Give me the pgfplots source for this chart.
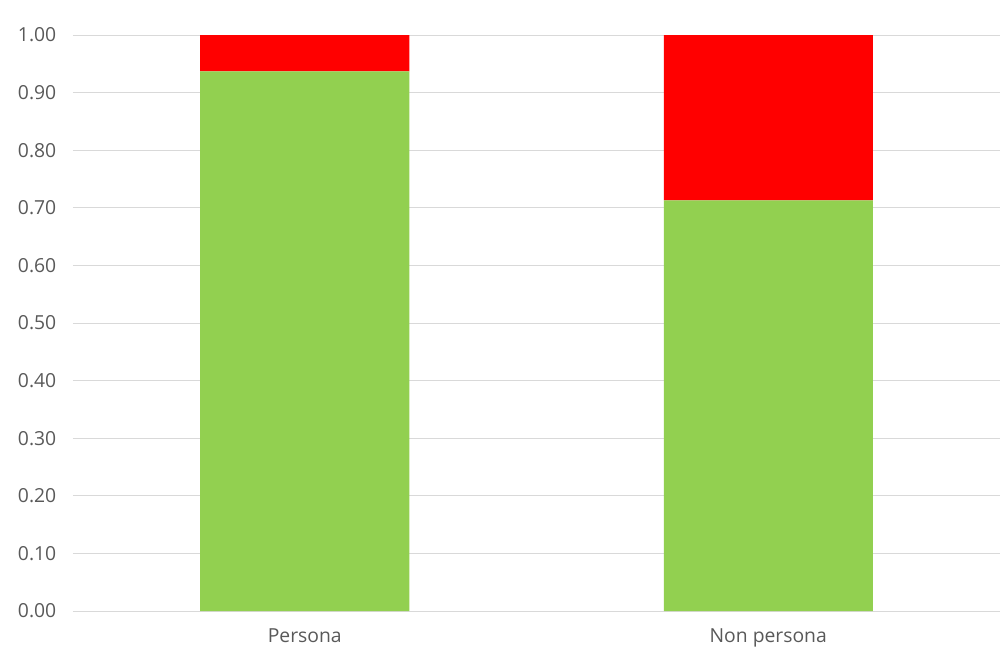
\documentclass[border=0pt]{standalone}
\usepackage{pgfplots}
\pgfplotsset{compat=1.18}
\usepackage{fontspec}
\setmainfont{Open Sans}
\definecolor{txt}{HTML}{595959}
\definecolor{gridc}{HTML}{D9D9D9}
\definecolor{grn}{HTML}{92D050}
\definecolor{rd}{HTML}{FF0000}
\begin{document}
\begin{tikzpicture}[x=1pt,y=1pt]
\begin{axis}[
  name=ax, at={(0,0)}, anchor=south west,
  scale only axis, width=695.25pt, height=432pt,
  ybar stacked, bar width=156.75pt,
  xmin=-0.5, xmax=1.5, ymin=0, ymax=1,
  xtick=data, xticklabels={Persona,Non persona},
  ytick={0,0.1,...,1.0},
  yticklabel style={/pgf/number format/fixed,/pgf/number format/fixed zerofill,/pgf/number format/precision=2, xshift=-9pt},
  /pgf/number format/assume math mode=true,
  ymajorgrids, major grid style={draw=gridc, line width=0.75pt},
  axis x line*=bottom, axis y line*=left,
  x axis line style={draw=gridc, line width=0.75pt, -},
  y axis line style={draw=none},
  major tick length=0pt,
  tick label style={font=\fontsize{14.5pt}{16pt}\selectfont, text=txt},
  xticklabel style={yshift=-10pt},
]
\addplot[fill=grn, draw=none] coordinates {(0,0.937) (1,0.713)};
\addplot[fill=rd, draw=none] coordinates {(0,0.063) (1,0.287)};
\end{axis}
\pgfresetboundingbox
\path[use as bounding box] (-54.75pt,-38.25pt) rectangle (701.25pt,458.25pt);
\end{tikzpicture}
\end{document}
